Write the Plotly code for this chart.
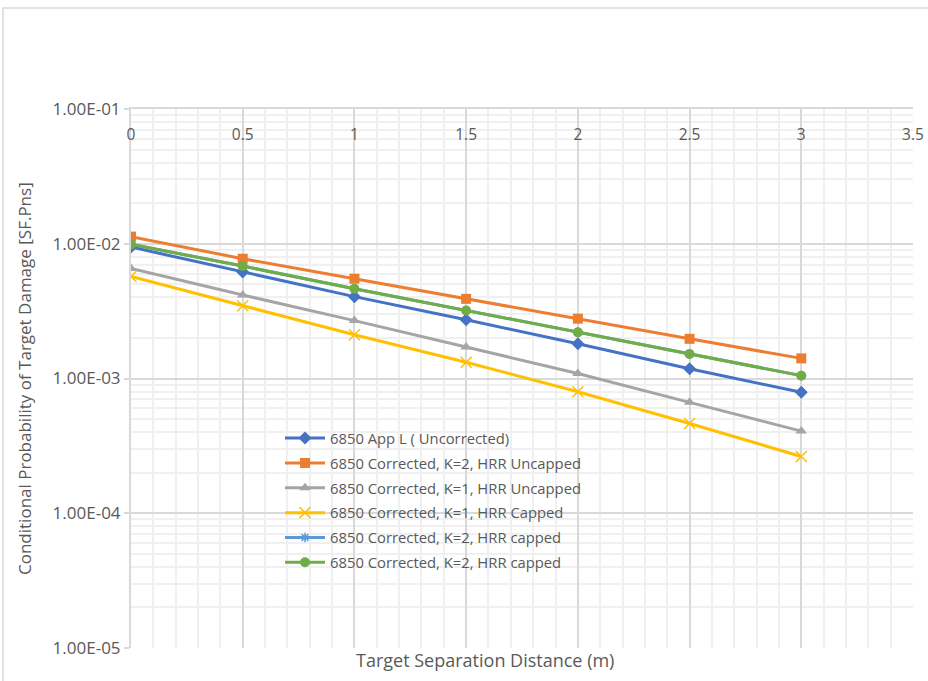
import plotly.graph_objects as go

x_vals = [0, 0.5, 1, 1.5, 2, 2.5, 3]

app_l_uncorrected = [9.45e-3, 6.16e-3, 4.05e-3, 2.73e-3, 1.81e-3, 1.18e-3, 7.9e-4]
k2_uncapped = [1.13e-2, 7.74e-3, 5.5e-3, 3.9e-3, 2.78e-3, 1.97e-3, 1.41e-3]
k1_uncapped = [6.56e-3, 4.16e-3, 2.69e-3, 1.71e-3, 1.09e-3, 6.65e-4, 4.07e-4]
k1_capped = [5.71e-3, 3.47e-3, 2.11e-3, 1.32e-3, 7.98e-4, 4.64e-4, 2.64e-4]
k2_capped_a = [9.9e-3, 6.83e-3, 4.64e-3, 3.2e-3, 2.2e-3, 1.52e-3, 1.05e-3]
k2_capped_b = [9.9e-3, 6.83e-3, 4.64e-3, 3.2e-3, 2.2e-3, 1.52e-3, 1.05e-3]

series_names = [
    "6850 App L ( Uncorrected)",
    "6850 Corrected, K=2, HRR Uncapped",
    "6850 Corrected, K=1, HRR Uncapped",
    "6850 Corrected, K=1, HRR Capped",
    "6850 Corrected, K=2, HRR capped",
    "6850 Corrected, K=2, HRR capped",
]
series_values = [app_l_uncorrected, k2_uncapped, k1_uncapped, k1_capped, k2_capped_a, k2_capped_b]
colors = ["#4472C4", "#ED7D31", "#A5A5A5", "#FFC000", "#5B9BD5", "#70AD47"]
symbols = ["diamond", "square", "triangle-up", "x-thin-open", "asterisk-open", "circle"]
sizes = [10, 10, 10, 11, 8, 10]

x_tick_vals = [0, 0.5, 1, 1.5, 2, 2.5, 3, 3.5]
x_tick_text = ["0", "0.5", "1", "1.5", "2", "2.5", "3", "3.5"]
y_tick_vals = [1e-5, 1e-4, 1e-3, 1e-2, 1e-1]
y_tick_text = ["1.00E-05", "1.00E-04", "1.00E-03", "1.00E-02", "1.00E-01"]

FONT = "Open Sans, DejaVu Sans, sans-serif"
TXT = "#595959"
fig = go.Figure()
for i, (name, vals, c, s, sz) in enumerate(zip(series_names, series_values, colors, symbols, sizes)):
    fig.add_trace(go.Scatter(
        x=x_vals, y=vals, name=name, mode="lines+markers", legendgroup=f"g{i}",
        line=dict(color=c, width=3),
        marker=dict(symbol=s, size=sz, color=c, line=dict(color=c, width=1.5 if "open" in s else 0)),
    ))

W, H = 928, 681
L, R, T, B = 131, 15, 109, 33
pw, ph = W - L - R, H - T - B


def px(xp):
    return (xp - L) / pw


def py(yp):
    return (H - B - yp) / ph


fig.update_layout(
    width=W, height=H,
    margin=dict(l=L, r=R, t=T, b=B, autoexpand=False),
    paper_bgcolor="white", plot_bgcolor="white",
    font=dict(family=FONT, size=14, color=TXT),
    showlegend=True,
    legend=dict(x=px(280), y=py(422), xanchor="left", yanchor="top",
                bgcolor="rgba(0,0,0,0)", font=dict(size=14.8, color=TXT, family=FONT),
                tracegroupgap=2.6, itemwidth=40),
    xaxis=dict(
        range=[0, 3.5], side="top", ticklabelposition="inside", ticklabeloverflow="allow",
        ticklabelstandoff=20, automargin=False,
        tickvals=x_tick_vals, ticktext=x_tick_text,
        showgrid=True, gridcolor="#D9D9D9", gridwidth=2,
        showline=True, linecolor="#D9D9D9", linewidth=2,
        zeroline=False, ticks="",
        minor=dict(dtick=0.1, showgrid=True, gridcolor="#F0F0F0", gridwidth=2, ticks=""),
        tickfont=dict(size=15.5, color=TXT, family=FONT),
    ),
    yaxis=dict(
        type="log", range=[-5, -1], ticklabeloverflow="allow", automargin=False,
        tickvals=y_tick_vals, ticktext=y_tick_text,
        showgrid=True, gridcolor="#D9D9D9", gridwidth=2,
        showline=True, linecolor="#D9D9D9", linewidth=2,
        zeroline=False, ticks="outside", ticklen=5, tickcolor="#D9D9D9", tickwidth=2,
        minor=dict(dtick="D1", showgrid=True, gridcolor="#F0F0F0", gridwidth=2, ticks=""),
        tickfont=dict(size=17, color=TXT, family=FONT),
    ),
    annotations=[
        dict(text="Target Separation Distance (m)", xref="paper", yref="paper",
             x=px(485), y=py(660), xanchor="center", yanchor="middle",
             showarrow=False, font=dict(size=18, color=TXT, family=FONT)),
        dict(text="Conditional Probability of Target Damage [SF.Pns]", xref="paper", yref="paper",
             x=px(24), y=py(379), xanchor="center", yanchor="middle",
             textangle=-90, showarrow=False, font=dict(size=17, color=TXT, family=FONT)),
    ],
    shapes=[
        dict(type="rect", xref="paper", yref="paper",
             x0=px(3), x1=px(940), y0=py(690), y1=py(8),
             line=dict(color="#D9D9D9", width=1.5), fillcolor="rgba(0,0,0,0)", layer="below"),
    ],
)

fig.write_html("out.html", config={"displayModeBar": False},
               post_script="document.body.style.margin='0px';")
